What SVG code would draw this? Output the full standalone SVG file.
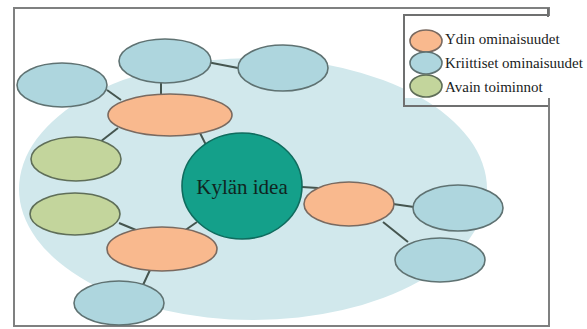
<svg xmlns="http://www.w3.org/2000/svg" width="587" height="329" viewBox="0 0 587 329">
<style>
.blue{fill:#aed6de;stroke:#5f7272;stroke-width:1.6}
.orange{fill:#f9b98e;stroke:#7a6a60;stroke-width:1.6}
.green{fill:#c3d59c;stroke:#5f6e58;stroke-width:1.6}
.core{fill:#14a08a;stroke:#0f6c5e;stroke-width:1.6}
.conn line{stroke:#45554f;stroke-width:2}
</style>
<rect x="0" y="0" width="587" height="329" fill="#ffffff"/>
<rect id="frame" x="14" y="8" width="535" height="318" fill="#ffffff" stroke="#7f8080" stroke-width="2"/>
<ellipse id="background" cx="253" cy="189" rx="234" ry="131" fill="#d1e8ec"/>
<g id="connectors" class="conn">
<line x1="107" y1="90" x2="121" y2="100"/>
<line x1="161" y1="82" x2="161" y2="95"/>
<line x1="207" y1="62" x2="238" y2="68"/>
<line x1="118" y1="128" x2="100" y2="142"/>
<line x1="200" y1="133" x2="206" y2="145"/>
<line x1="119" y1="223" x2="136" y2="230"/>
<line x1="197" y1="222" x2="184" y2="231"/>
<line x1="302" y1="187" x2="318" y2="188"/>
<line x1="393" y1="204" x2="414" y2="207"/>
<line x1="383" y1="222" x2="408" y2="242"/>
<line x1="150" y1="270" x2="143" y2="285"/>
</g>
<g id="n-blue-topleft"><ellipse class="blue" cx="62" cy="85" rx="45" ry="22"/></g>
<g id="n-blue-topmid"><ellipse class="blue" cx="165" cy="61" rx="46" ry="22"/></g>
<g id="n-blue-topright"><ellipse class="blue" cx="283" cy="68" rx="45" ry="23"/></g>
<g id="n-orange-top"><ellipse class="orange" cx="170" cy="115" rx="62" ry="21"/></g>
<g id="n-green-1"><ellipse class="green" cx="76" cy="159" rx="45" ry="22"/></g>
<g id="n-green-2"><ellipse class="green" cx="75" cy="214" rx="45" ry="21"/></g>
<g id="n-orange-bottom"><ellipse class="orange" cx="162" cy="249" rx="55" ry="22"/></g>
<g id="n-blue-bottom"><ellipse class="blue" cx="119" cy="303" rx="45" ry="22"/></g>
<g id="n-core"><ellipse class="core" cx="242" cy="186" rx="60" ry="53"/>
<text x="242" y="194" text-anchor="middle" font-family="'Liberation Serif','Times New Roman',serif" font-size="21" fill="#10251f">Kylän idea</text></g>
<g id="n-orange-right"><ellipse class="orange" cx="349" cy="204" rx="45" ry="22"/></g>
<g id="n-blue-right1"><ellipse class="blue" cx="458" cy="208" rx="45" ry="23"/></g>
<g id="n-blue-right2"><ellipse class="blue" cx="440" cy="260" rx="45" ry="22"/></g>
<g id="legend">
<rect x="404" y="16" width="150" height="82" fill="#ffffff"/>
<path d="M548 8 V17 M548 15 H404 V106 H548" fill="none" stroke="#6f7070" stroke-width="2"/>
<ellipse class="orange" cx="426" cy="41" rx="16" ry="11"/>
<ellipse class="blue" cx="426" cy="63" rx="16" ry="11"/>
<ellipse class="green" cx="426" cy="86" rx="16" ry="11"/>
<g font-family="'Liberation Serif','Times New Roman',serif" font-size="15" fill="#1a2222">
<text x="445" y="44">Ydin ominaisuudet</text>
<text x="445" y="68">Kriittiset ominaisuudet</text>
<text x="445" y="92">Avain toiminnot</text>
</g>
</g>
</svg>
